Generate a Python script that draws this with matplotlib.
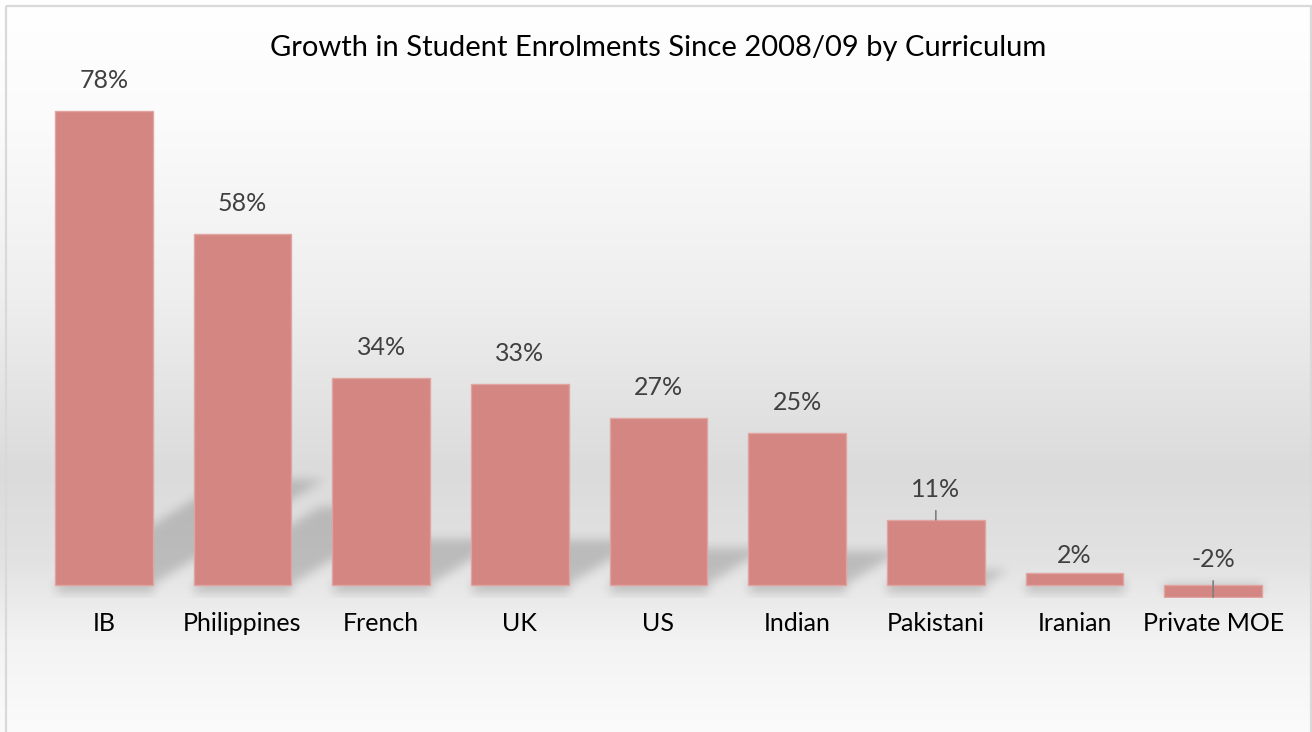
#!/usr/bin/env python3
"""Growth in student enrolments since 2008/09, by curriculum."""
import matplotlib

matplotlib.use("Agg")
import matplotlib.pyplot as plt
import numpy as np
from matplotlib.patches import Rectangle

curricula = ["IB", "Philippines", "French", "UK", "US", "Indian", "Pakistani", "Iranian", "Private MOE"]
growth_pct = [77.9, 57.7, 34.0, 33.1, 27.4, 25.0, 10.7, 2.0, -2.0]

TITLE = "Growth in Student Enrolments Since 2008/09 by Curriculum"

# label offsets above the bar end (px) and which labels get a leader line
label_offset_px = [19, 19, 19, 19, 19, 19, 19, 6, 26]
label_leader = [False, False, False, False, False, False, True, False, True]

STYLE = {
    "bar": "#d38682",
    "bar_edge": "#e2a4a1",
    "label": "#404040",
    "tick": "#000000",
    "leader": "#7f7f7f",
    "frame": "#d9d9d9",
}
FONT = ["Lato", "DejaVu Sans"]

W, H, DPI = 1312, 732, 100
XLIM = (-0.5, len(curricula) - 0.5)
YLIM = (-2.2, 84.0)
BAR_W = 0.705


def _blur(a, sigma):
    k = np.arange(-3 * sigma, 3 * sigma + 1)
    kern = np.exp(-(k ** 2) / (2.0 * sigma ** 2))
    kern /= kern.sum()
    for axis in (0, 1):
        a = np.apply_along_axis(lambda m: np.convolve(m, kern, mode="same"), axis, a)
    return a


def _shadow_mask(ncols, nrows):
    xs = np.linspace(XLIM[0], XLIM[1], ncols)
    ys = np.linspace(YLIM[0], YLIM[1], nrows)
    X, Y = np.meshgrid(xs, ys)
    mask = np.zeros_like(X)
    for i, v in enumerate(growth_pct):
        top = max(v, 0.0)
        hs = 0.22 * top
        shear = 0.0157 * top / max(hs, 1e-6)
        yc = np.clip(Y, 0, None)
        x0 = i - BAR_W / 2 + shear * yc
        x1 = i + BAR_W / 2 + shear * yc
        inside = (Y >= -1.4) & (Y <= hs) & (X >= x0) & (X <= x1)
        mask = np.maximum(mask, inside.astype(float))
    return _blur(mask, 5)


fig = plt.figure(figsize=(W / DPI, H / DPI), dpi=DPI)

# background gradient + frame
bg = fig.add_axes([0, 0, 1, 1], zorder=-10)
stops_y = [0, 120, 300, 470, 560, 640, 732]
stops_v = [255, 251, 238, 219, 226, 243, 251]
col = np.interp(np.arange(H), stops_y, stops_v) / 255.0
grad = np.repeat(col[:, None], 4, axis=1)
bg.imshow(np.dstack([grad, grad, grad]), aspect="auto", extent=(0, W, H, 0))
bg.set_xlim(0, W)
bg.set_ylim(H, 0)
bg.add_patch(Rectangle((6, 6), 1305, 740, fill=False, edgecolor=STYLE["frame"], linewidth=1.6))
bg.axis("off")

# main axes, placed so that 0 % lands on the chart's baseline
left_px, right_px = 34.5, 1282.5
px_per_unit = 6.08
base_px = 585
bottom_px = base_px - YLIM[0] * px_per_unit
top_px = base_px - YLIM[1] * px_per_unit
ax = fig.add_axes([left_px / W, (H - bottom_px) / H, (right_px - left_px) / W, (bottom_px - top_px) / H])
ax.set_facecolor("none")
ax.set_xlim(*XLIM)
ax.set_ylim(*YLIM)

ncols, nrows = int(right_px - left_px), int(bottom_px - top_px)
sh = _shadow_mask(ncols, nrows)
rgba = np.zeros((nrows, ncols, 4))
rgba[..., 3] = sh * 0.17
ax.imshow(rgba, origin="lower", aspect="auto", extent=(*XLIM, *YLIM), zorder=1, interpolation="bilinear")

x = np.arange(len(curricula))
ax.bar(x, growth_pct, width=BAR_W, color=STYLE["bar"], edgecolor=STYLE["bar_edge"], linewidth=1, zorder=2)

for i, v in enumerate(growth_pct):
    off_pt = label_offset_px[i] * 72 / DPI
    arrow = None
    if label_leader[i]:
        arrow = dict(arrowstyle="-", color=STYLE["leader"], lw=1.2, shrinkA=5, shrinkB=0)
    ax.annotate(
        f"{v:.0f}%",
        xy=(i, v),
        xytext=(0, off_pt),
        textcoords="offset points",
        ha="center",
        va="bottom",
        fontsize=18,
        family=FONT,
        color=STYLE["label"],
        arrowprops=arrow,
        zorder=4,
    )

ax.set_xticks(x)
ax.set_xticklabels(curricula, fontsize=18, family=FONT, color=STYLE["tick"])
ax.tick_params(axis="x", length=0, pad=10)
ax.set_yticks([])
for s in ax.spines.values():
    s.set_visible(False)

fig.text(0.5015, 1 - 48 / H, TITLE, ha="center", va="center", fontsize=21, family=FONT, color="#000000")

fig.savefig("out.png", dpi=DPI)
plt.close(fig)
